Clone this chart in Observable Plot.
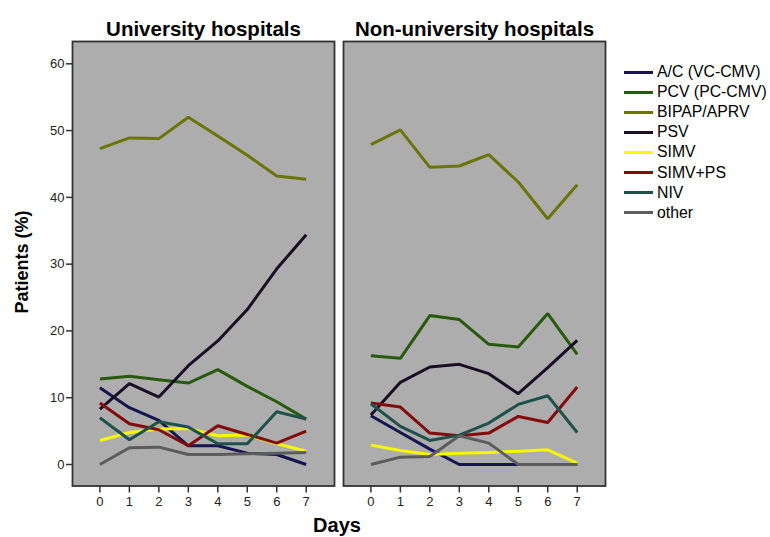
<!DOCTYPE html>
<html>
<head>
<meta charset="utf-8">
<script src="https://cdn.jsdelivr.net/npm/d3@7"></script>
<script src="https://cdn.jsdelivr.net/npm/@observablehq/plot@0.6"></script>
<style>
  html, body { margin: 0; padding: 0; background: #fff; }
  #wrap { position: relative; width: 770px; height: 537px; font-family: "Liberation Sans", Arial, Helvetica, sans-serif; }
  #chart { position: absolute; left: 0; top: 0; }
  #ylabel { position: absolute; left: 22px; top: 262px; transform: translate(-50%, -50%) rotate(-90deg); font-weight: bold; font-size: 18px; white-space: nowrap; color: #000; }
  #xlabel { position: absolute; left: 337px; top: 525px; transform: translate(-50%, -50%); font-weight: bold; font-size: 20px; color: #000; }
  #legend { position: absolute; left: 624px; top: 62px; font-size: 15.8px; color: #000; }
  .item { display: flex; align-items: center; height: 20.1px; }
  .swatch { width: 29px; height: 3px; margin-right: 4px; }
</style>
</head>
<body>
<div id="wrap">
  <div id="chart"></div>
  <div id="ylabel">Patients (%)</div>
  <div id="xlabel">Days</div>
  <div id="legend"></div>
</div>
<script>
const days = [0, 1, 2, 3, 4, 5, 6, 7];
const hospitals = ["University hospitals", "Non-university hospitals"];
const modes = ["A/C (VC-CMV)", "PCV (PC-CMV)", "BIPAP/APRV", "PSV", "SIMV", "SIMV+PS", "NIV", "other"];
const colors = ["#15154f", "#275a0e", "#6b7406", "#1a0e24", "#f7f700", "#820b0b", "#1f514b", "#5c5c5c"];
const yTicks = [0, 10, 20, 30, 40, 50, 60];

// University hospitals
const uniAC     = [11.5, 8.5, 6.6, 2.8, 2.8, 1.7, 1.5, 0.0];
const uniPCV    = [12.8, 13.2, 12.7, 12.2, 14.2, 11.7, 9.4, 6.8];
const uniBIPAP  = [47.3, 48.9, 48.8, 52.0, 49.2, 46.3, 43.2, 42.7];
const uniPSV    = [8.3, 12.1, 10.1, 14.8, 18.5, 23.2, 29.3, 34.4];
const uniSIMV   = [3.6, 4.8, 5.3, 5.4, 4.3, 4.4, 3.1, 2.0];
const uniSIMVPS = [9.2, 6.1, 5.2, 2.8, 5.8, 4.5, 3.2, 5.0];
const uniNIV    = [7.0, 3.7, 6.4, 5.6, 3.1, 3.1, 7.9, 6.8];
const uniOther  = [0.0, 2.5, 2.6, 1.5, 1.5, 1.6, 1.7, 1.8];

// Non-university hospitals
const nonAC     = [7.3, 4.8, 2.3, 0.0, 0.0, 0.0, 0.0, 0.0];
const nonPCV    = [16.3, 15.9, 22.3, 21.7, 18.0, 17.6, 22.6, 16.5];
const nonBIPAP  = [47.9, 50.1, 44.5, 44.7, 46.4, 42.3, 36.8, 41.9];
const nonPSV    = [7.4, 12.3, 14.6, 15.0, 13.6, 10.6, 14.5, 18.6];
const nonSIMV   = [2.9, 2.1, 1.5, 1.7, 1.8, 2.0, 2.2, 0.2];
const nonSIMVPS = [9.2, 8.6, 4.7, 4.3, 4.7, 7.2, 6.3, 11.6];
const nonNIV    = [9.1, 5.7, 3.6, 4.4, 6.2, 9.0, 10.3, 4.8];
const nonOther  = [0.0, 1.1, 1.2, 4.3, 3.2, 0.0, 0.0, 0.0];

const uniSeries = [uniAC, uniPCV, uniBIPAP, uniPSV, uniSIMV, uniSIMVPS, uniNIV, uniOther];
const nonSeries = [nonAC, nonPCV, nonBIPAP, nonPSV, nonSIMV, nonSIMVPS, nonNIV, nonOther];

const rows = [];
[uniSeries, nonSeries].forEach((series, h) => {
  series.forEach((vals, m) => {
    vals.forEach((v, i) => rows.push({hospital: hospitals[h], mode: modes[m], day: days[i], value: v}));
  });
});

const font = '"Liberation Sans", Arial, Helvetica, sans-serif';

const plot = Plot.plot({
  width: 615,
  height: 537,
  marginLeft: 72,
  marginRight: 9,
  marginTop: 41,
  marginBottom: 51.5,
  style: {fontFamily: font, background: "transparent", color: "#222"},
  fx: {domain: hospitals, paddingInner: 0.033, paddingOuter: 0, label: null},
  x: {domain: [-0.93, 7.96], label: null},
  y: {domain: [-3.22, 63.34], label: null},
  color: {domain: modes, range: colors},
  marks: [
    Plot.frame({fill: "#adadad", stroke: "#333", strokeWidth: 1.8}),
    Plot.axisFx({anchor: "top", label: null, tickSize: 0, tickPadding: 6, fontSize: 20.5, fontWeight: "bold", fill: "#000"}),
    Plot.axisY({ticks: yTicks, tickSize: 6, tickPadding: 2, label: null, fontSize: 13, stroke: "#333", strokeWidth: 1.5, fill: "#222"}),
    Plot.axisX({ticks: days, tickFormat: d => String(d), tickSize: 7, tickPadding: 4, label: null, fontSize: 13, stroke: "#333", strokeWidth: 1.5, fill: "#222"}),
    Plot.line(rows, {fx: "hospital", x: "day", y: "value", z: "mode", stroke: "mode", strokeWidth: 3, strokeLinejoin: "miter", strokeLinecap: "butt"})
  ]
});
document.getElementById("chart").appendChild(plot);

const legend = document.getElementById("legend");
modes.forEach((m, i) => {
  const item = document.createElement("div");
  item.className = "item";
  const sw = document.createElement("div");
  sw.className = "swatch";
  sw.style.background = colors[i];
  const lab = document.createElement("span");
  lab.textContent = m;
  item.appendChild(sw);
  item.appendChild(lab);
  legend.appendChild(item);
});
</script>
</body>
</html>
